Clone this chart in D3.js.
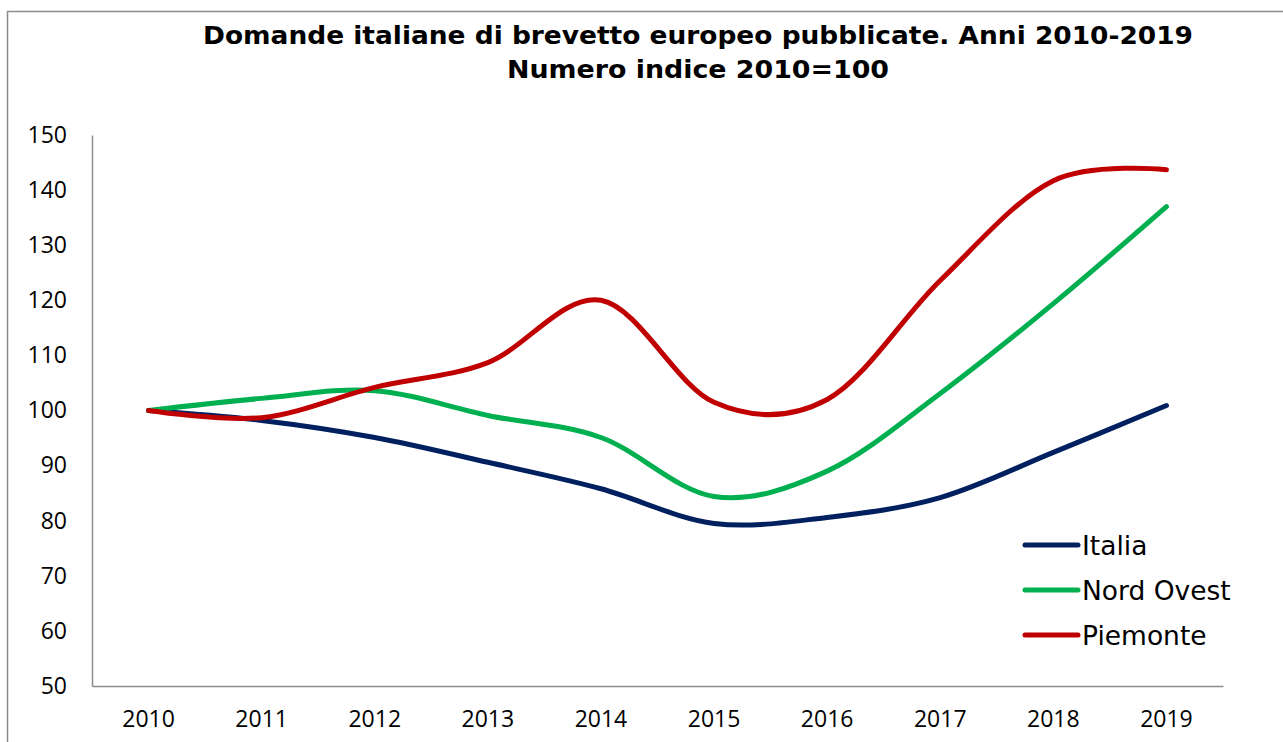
<!DOCTYPE html>
<html>
<head>
<meta charset="utf-8">
<script src="https://cdn.jsdelivr.net/npm/d3@7"></script>
<style>
  html, body { margin: 0; padding: 0; background: #fff; }
  svg { display: block; }
</style>
</head>
<body>
<svg id="chart" width="1283" height="742"></svg>
<script>
const years = ["2010","2011","2012","2013","2014","2015","2016","2017","2018","2019"];
const italia =    [100, 98.2, 95.1, 90.6, 85.8, 79.5, 80.6, 84.2, 92.4, 100.9];
const nordOvest = [100, 102.2, 103.6, 99.1, 95.1, 84.4, 89.0, 103.1, 119.4, 137.0];
const piemonte =  [100, 98.7, 104.2, 108.7, 120.0, 101.5, 102.0, 123.6, 141.7, 143.7];
const yTicks = [50, 60, 70, 80, 90, 100, 110, 120, 130, 140, 150];
const seriesNames = ["Italia", "Nord Ovest", "Piemonte"];
const seriesColors = ["#002060", "#00B050", "#C00000"];
const titleLines = ["Domande italiane di brevetto europeo pubblicate. Anni 2010-2019", "Numero indice 2010=100"];

(function () {
const series = [italia, nordOvest, piemonte];
const svg = d3.select("#chart");
const font = "'DejaVu Sans', Verdana, sans-serif";
const tickFont = "'Open Sans', Calibri, sans-serif";

// outer frame
svg.append("rect").attr("x", 7.5).attr("y", 11.5).attr("width", 1300).attr("height", 800)
  .attr("fill", "none").attr("stroke", "#8c8c8c").attr("stroke-width", 1.5);

const mLeft = 92, mRight = 1223, mTop = 135, mBottom = 686;
const x = d3.scaleBand().domain(years).range([mLeft, mRight]);
const y = d3.scaleLinear().domain([50, 150]).range([mBottom, mTop]);

// title
const titleWidths = [990, 382];
titleLines.forEach((t, i) => {
  svg.append("text").attr("x", 698).attr("y", 44 + i * 34).attr("text-anchor", "middle")
    .attr("font-family", font).attr("font-weight", "bold").attr("font-size", 24)
    .attr("textLength", titleWidths[i]).attr("lengthAdjust", "spacingAndGlyphs")
    .attr("fill", "#000").text(t);
});

// axes
const yAxis = d3.axisLeft(y).tickValues(yTicks).tickSize(0).tickPadding(25);
const gy = svg.append("g").attr("transform", `translate(${mLeft},0)`).call(yAxis);
gy.select(".domain").attr("stroke", "#8c8c8c").attr("stroke-width", 1.5);
gy.selectAll("text").attr("font-family", tickFont).attr("font-size", 23).attr("fill", "#000");

const xAxis = d3.axisBottom(x).tickSize(0).tickPadding(25);
const gx = svg.append("g").attr("transform", `translate(0,${mBottom})`).call(xAxis);
gx.select(".domain").attr("stroke", "#8c8c8c").attr("stroke-width", 1.5);
gx.selectAll("text").attr("font-family", tickFont).attr("font-size", 23).attr("fill", "#000");

// lines
const line = d3.line()
  .x((d, i) => x(years[i]) + x.bandwidth() / 2)
  .y(d => y(d))
  .curve(d3.curveCatmullRom.alpha(0));

series.forEach((s, i) => {
  svg.append("path").datum(s).attr("d", line)
    .attr("fill", "none").attr("stroke", seriesColors[i])
    .attr("stroke-width", 5).attr("stroke-linecap", "round").attr("stroke-linejoin", "round");
});

// legend
const lg = svg.append("g");
seriesNames.forEach((n, i) => {
  const ly = 545 + i * 45;
  lg.append("line").attr("x1", 1025).attr("x2", 1078).attr("y1", ly).attr("y2", ly)
    .attr("stroke", seriesColors[i]).attr("stroke-width", 5).attr("stroke-linecap", "round");
  lg.append("text").attr("x", 1082).attr("y", ly + 9.5).attr("font-family", font)
    .attr("font-size", 26.5).attr("fill", "#000").text(n);
});
})();
</script>
</body>
</html>
